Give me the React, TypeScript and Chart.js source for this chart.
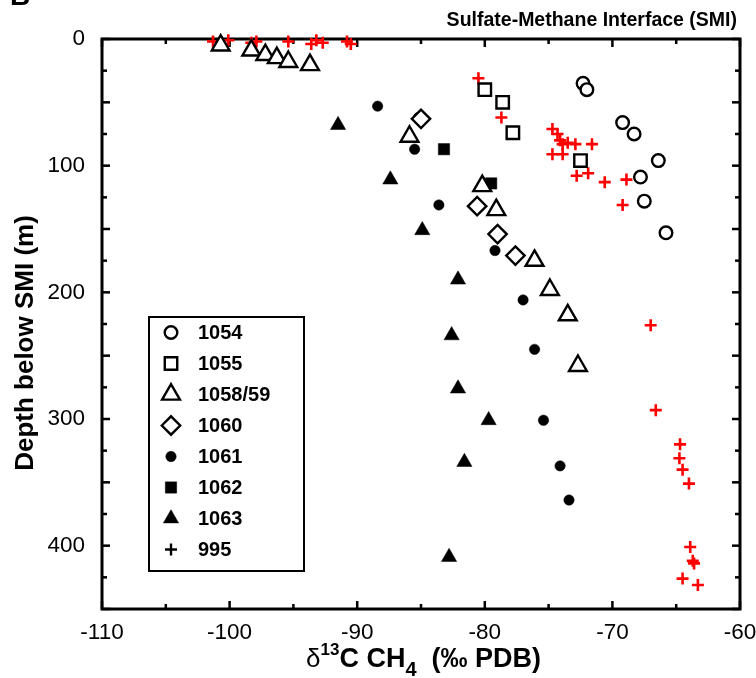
import React, { useEffect, useRef } from "react";
import { Chart, registerables, PointElement } from "chart.js";

Chart.register(...registerables);

const FONT = "'Liberation Sans', Arial, Helvetica, sans-serif";

// Axis ranges and tick labels
const xMin = -110;
const xMax = -60;
const yMin = 0;
const yMax = 450;
const xTickLabels = ["-110", "-100", "-90", "-80", "-70", "-60"];
const yTickLabels = ["0", "100", "200", "300", "400"];

// Series names
const seriesNames = ["1054", "1055", "1058/59", "1060", "1061", "1062", "1063", "995"];

// Site 1054 (open circles)
const s1054X = [-72.3, -72.0, -69.2, -68.3, -66.4, -67.8, -67.5, -65.8];
const s1054D = [35, 40, 66, 75, 96, 109, 128, 153];

// Site 1055 (open squares)
const s1055X = [-80.0, -78.6, -77.8, -72.5];
const s1055D = [40, 50, 74, 96];

// Site 1058/59 (open triangles)
const s1058X = [-100.7, -98.3, -97.2, -96.3, -95.4, -93.7, -85.9, -80.2, -79.1, -76.1, -74.9, -73.5, -72.7];
const s1058D = [5, 9, 12.5, 15, 18, 20.5, 77, 116, 135, 175, 198, 218, 258];

// Site 1060 (open diamonds)
const s1060X = [-85.0, -80.6, -79.0, -77.6];
const s1060D = [63, 132, 154, 171];

// Site 1061 (filled circles)
const s1061X = [-88.4, -85.2, -85.5, -83.6, -79.2, -77.0, -76.1, -75.4, -74.1, -73.4];
const s1061D = [53, 62, 87, 131, 167, 206, 245, 301, 337, 364];

// Site 1062 (filled squares)
const s1062X = [-83.2, -79.5];
const s1062D = [87, 114];

// Site 1063 (filled triangles)
const s1063X = [-91.5, -87.4, -84.9, -82.1, -82.6, -82.1, -79.7, -81.6, -82.8];
const s1063D = [68, 111, 151, 190, 234, 276, 301, 334, 409];

// Site 995 (red crosses)
const s995X = [
  -101.3, -100.6, -100.1, -98.3, -97.9, -95.4, -93.6, -93.2, -92.7, -90.8, -90.5,
  -80.5, -78.7, -74.7, -74.3, -74.1, -73.9, -73.5, -72.9, -71.6, -74.7, -73.9,
  -72.8, -71.9, -70.6, -68.9, -69.2, -67.0, -66.6,
  -64.7, -64.75, -64.5, -64.0, -63.9, -63.7, -63.6, -64.5, -63.3,
];
const s995D = [
  2, 4, 1, 3, 2, 2, 4, 1, 3, 2, 4,
  31, 62, 71, 75, 80, 83, 82, 83, 83, 91, 91,
  108, 106, 113, 111, 131, 226, 293,
  320, 331, 340, 351, 401, 412, 414, 426, 431,
];

const seriesX = [s1054X, s1055X, s1058X, s1060X, s1061X, s1062X, s1063X, s995X];
const seriesD = [s1054D, s1055D, s1058D, s1060D, s1061D, s1062D, s1063D, s995D];

type Style = { pointStyle: string; radius: number; fill: string; stroke: string; bw: number };
const styles: Style[] = [
  { pointStyle: "circle", radius: 6.3, fill: "#ffffff", stroke: "#000000", bw: 2.4 },
  { pointStyle: "rect", radius: 8.8, fill: "#ffffff", stroke: "#000000", bw: 2.4 },
  { pointStyle: "triangle", radius: 10.3, fill: "#ffffff", stroke: "#000000", bw: 2.4 },
  { pointStyle: "rectRot", radius: 9.2, fill: "#ffffff", stroke: "#000000", bw: 2.4 },
  { pointStyle: "circle", radius: 5.2, fill: "#000000", stroke: "#000000", bw: 0.5 },
  { pointStyle: "rect", radius: 8.0, fill: "#000000", stroke: "#000000", bw: 0.5 },
  { pointStyle: "triangle", radius: 8.8, fill: "#000000", stroke: "#000000", bw: 0.5 },
  { pointStyle: "cross", radius: 6, fill: "#ff0000", stroke: "#ff0000", bw: 2.6 },
];

const framePlugin = {
  id: "frameTicks",
  beforeDatasetsDraw(chart: any) {
    const { ctx, chartArea: a, scales } = chart;
    const xs = scales.x;
    const ys = scales.y;
    ctx.save();
    ctx.strokeStyle = "#000";
    ctx.lineCap = "butt";
    ctx.lineWidth = 2.5;
    const line = (x1: number, y1: number, x2: number, y2: number) => {
      ctx.beginPath();
      ctx.moveTo(x1, y1);
      ctx.lineTo(x2, y2);
      ctx.stroke();
    };
    for (let v = xMin; v <= xMax; v += 5) {
      const px = xs.getPixelForValue(v);
      const len = Math.abs(v % 10) === 0 ? 8 : 5;
      line(px, a.bottom, px, a.bottom - len);
      line(px, a.top, px, a.top + len);
    }
    for (let v = yMin; v <= yMax; v += 25) {
      const py = ys.getPixelForValue(v);
      const len = v % 50 === 0 ? 8 : 5;
      line(a.left, py, a.left + len, py);
      line(a.right, py, a.right - len, py);
    }
    ctx.lineWidth = 3;
    ctx.lineJoin = "miter";
    ctx.strokeRect(a.left, a.top, a.right - a.left, a.bottom - a.top);
    ctx.restore();
  },
};

const textPlugin = {
  id: "texts",
  afterDraw(chart: any) {
    const { ctx } = chart;
    ctx.save();
    ctx.fillStyle = "#000";

    // panel letter (cut off at top)
    ctx.font = `bold 28px ${FONT}`;
    ctx.textAlign = "left";
    ctx.textBaseline = "alphabetic";
    ctx.fillText("B", 10, 5);

    // header
    ctx.font = `bold 19.5px ${FONT}`;
    ctx.textAlign = "right";
    ctx.fillText("Sulfate-Methane Interface (SMI)", 737, 26);

    // y title
    ctx.save();
    ctx.translate(33, 343);
    ctx.rotate(-Math.PI / 2);
    ctx.textAlign = "center";
    ctx.font = `bold 26px ${FONT}`;
    ctx.fillText("Depth below SMI (m)", 0, 0);
    ctx.restore();

    // x title with super/subscripts
    const parts = [
      { t: "\u03B4", f: `26px ${FONT}`, dy: 0 },
      { t: "13", f: `bold 17px ${FONT}`, dy: -12 },
      { t: "C CH", f: `bold 27px ${FONT}`, dy: 0 },
      { t: "4", f: `bold 20px ${FONT}`, dy: 9 },
      { t: "  (\u2030 PDB)", f: `bold 27px ${FONT}`, dy: 0 },
    ];
    ctx.textAlign = "left";
    let cx = 306;
    for (const p of parts) {
      ctx.font = p.f;
      ctx.fillText(p.t, cx, 667 + p.dy);
      cx += ctx.measureText(p.t).width;
    }

    // legend box
    ctx.strokeStyle = "#000";
    ctx.lineWidth = 2;
    ctx.strokeRect(149, 317, 155, 254);
    ctx.font = `bold 20px ${FONT}`;
    ctx.textAlign = "left";
    ctx.textBaseline = "middle";
    seriesNames.forEach((name, i) => {
      const yy = 332.5 + i * 31;
      const s = styles[i];
      const isCross = s.pointStyle === "cross";
      const pt: any = new PointElement({
        x: 171,
        y: yy,
        options: {
          pointStyle: s.pointStyle,
          radius: s.radius,
          rotation: 0,
          borderWidth: isCross ? 2.4 : s.bw,
          backgroundColor: isCross ? "#000" : s.fill,
          borderColor: isCross ? "#000" : s.stroke,
        },
      } as any);
      pt.draw(ctx);
      ctx.fillStyle = "#000";
      ctx.fillText(name, 198, yy + 1);
    });
    ctx.restore();
  },
};

export default function App() {
  const canvasRef = useRef<HTMLCanvasElement | null>(null);

  useEffect(() => {
    if (!canvasRef.current) return;
    const datasets = seriesNames.map((name, i) => ({
      label: name,
      data: seriesX[i].map((x, j) => ({ x, y: seriesD[i][j] })),
      pointStyle: styles[i].pointStyle as any,
      pointRadius: styles[i].radius,
      pointHoverRadius: styles[i].radius,
      pointBackgroundColor: styles[i].fill,
      pointBorderColor: styles[i].stroke,
      pointBorderWidth: styles[i].bw,
      backgroundColor: styles[i].fill,
      borderColor: styles[i].stroke,
      showLine: false,
      clip: false as any,
    }));

    const chart = new Chart(canvasRef.current, {
      type: "scatter",
      data: { datasets: datasets as any },
      options: {
        responsive: false,
        animation: false,
        events: [],
        layout: { padding: { left: 0, top: 39, right: 16, bottom: 0 } },
        plugins: {
          legend: { display: false },
          tooltip: { enabled: false },
          title: { display: false },
        },
        scales: {
          x: {
            type: "linear",
            position: "bottom",
            min: xMin,
            max: xMax,
            grid: { display: false },
            border: { display: false },
            ticks: {
              stepSize: 10,
              autoSkip: false,
              maxRotation: 0,
              padding: 2,
              color: "#000",
              font: { family: FONT, size: 22.5 },
              callback: (v: any) => {
                const idx = Math.round((Number(v) - xMin) / 10);
                return xTickLabels[idx] ?? "";
              },
            },
            afterFit: (s: any) => {
              s.height = 69;
              s.paddingLeft = 0;
              s.paddingRight = 0;
            },
          },
          y: {
            type: "linear",
            reverse: true,
            min: yMin,
            max: yMax,
            grid: { display: false },
            border: { display: false },
            ticks: {
              stepSize: 100,
              autoSkip: false,
              padding: 9,
              color: "#000",
              font: { family: FONT, size: 22.5 },
              callback: (v: any) => {
                const n = Number(v);
                if (n % 100 !== 0) return "";
                return yTickLabels[n / 100] ?? "";
              },
            },
            afterBuildTicks: (s: any) => {
              s.ticks = s.ticks.filter((t: any) => t.value % 100 === 0);
            },
            afterFit: (s: any) => {
              s.width = 102;
              s.paddingTop = 0;
              s.paddingBottom = 0;
            },
          },
        },
      },
      plugins: [framePlugin, textPlugin],
    });
    return () => chart.destroy();
  }, []);

  return (
    <div style={{ position: "absolute", left: 0, top: 0, width: 756, height: 678, background: "#fff" }}>
      <canvas ref={canvasRef} width={756} height={678} style={{ display: "block" }} />
    </div>
  );
}
